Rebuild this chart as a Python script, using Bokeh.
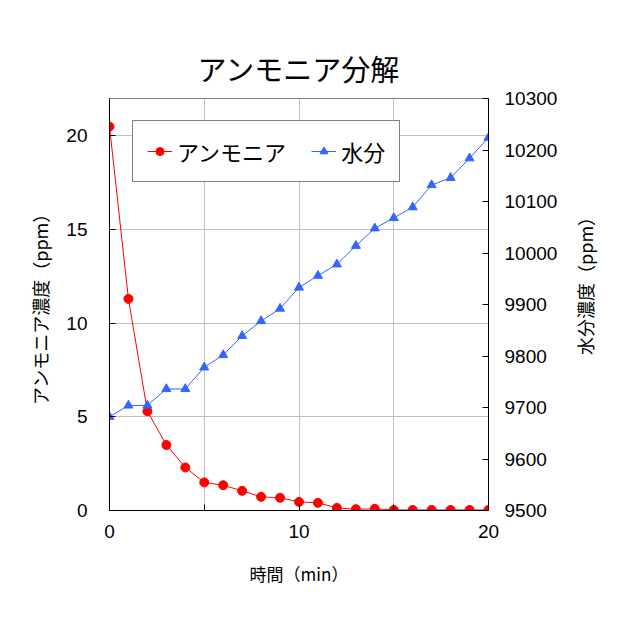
import math
from bokeh.plotting import figure
from bokeh.layouts import row
from bokeh.models import Range1d, LinearAxis, FixedTicker, Legend, LegendItem
from bokeh.core.properties import value
from bokeh.embed import file_html
from bokeh.resources import INLINE

time_min = list(range(21))
ammonia = [20.5, 11.3, 5.3, 3.5, 2.3, 1.5, 1.35, 1.05, 0.73, 0.68, 0.46,
           0.41, 0.14, 0.07, 0.09, 0.03, 0.03, 0.03, 0.03, 0.03, 0.03]
water = [9682, 9704, 9704, 9736, 9736, 9778, 9802, 9839, 9868, 9892, 9933,
         9956, 9978, 10014, 10048, 10068, 10089, 10132, 10146, 10184, 10224]
x_ticks = [0, 5, 10, 15, 20]
left_ticks = [0, 5, 10, 15, 20]
right_ticks = [9500, 9600, 9700, 9800, 9900, 10000, 10100, 10200, 10300]
right_title = "水分濃度（ppm）"

JP = "Noto Sans CJK JP"
NUM = "Liberation Sans"

p = figure(width=570, height=640, output_backend="svg", toolbar_location=None,
           x_range=Range1d(0, 20), y_range=Range1d(0, 22),
           min_border_left=109, min_border_right=82, min_border_top=98, min_border_bottom=130)
p.background_fill_color = "white"
p.border_fill_color = "white"
p.outline_line_color = "#808080"

p.title.text = "アンモニア分解"
p.title.align = "center"
p.title.text_font = JP
p.title.text_font_size = "29px"
p.title.text_font_style = "normal"
p.title.text_color = "black"
p.title.standoff = 19

p.extra_y_ranges = {"w": Range1d(9500, 10300)}

def style_axis(ax):
    ax.axis_line_color = "black"
    ax.major_tick_line_color = "black"
    ax.major_tick_in = 6
    ax.major_tick_out = 0
    ax.minor_tick_line_color = None
    ax.major_label_text_font = NUM
    ax.major_label_text_font_size = "19px"
    ax.major_label_text_color = "black"
    ax.axis_label_text_font = JP
    ax.axis_label_text_font_size = "18px"
    ax.axis_label_text_font_style = "normal"
    ax.axis_label_text_color = "black"

xa = p.xaxis[0]
xa.ticker = FixedTicker(ticks=x_ticks)
xa.major_label_overrides = {5: "", 15: ""}
xa.axis_label = "時間（min）"
style_axis(xa)
xa.axis_label_text_font_size = "17px"
xa.major_label_standoff = 14
xa.axis_label_standoff = 20

ya = p.yaxis[0]
ya.ticker = FixedTicker(ticks=left_ticks)
ya.axis_label = "アンモニア濃度（ppm）"
style_axis(ya)
ya.major_label_standoff = 22
ya.axis_label_standoff = 10

ra = LinearAxis(y_range_name="w", ticker=FixedTicker(ticks=right_ticks))
style_axis(ra)
ra.major_label_standoff = 16
p.add_layout(ra, "right")

p.xgrid.ticker = FixedTicker(ticks=[5, 10, 15])
p.ygrid.ticker = FixedTicker(ticks=[5, 10, 15, 20])
p.xgrid.grid_line_color = "#c0c0c0"
p.ygrid.grid_line_color = "#c0c0c0"

red = "#ff0000"
blue = "#3366ff"
l1 = p.line(time_min, ammonia, line_color=red, line_width=1)
s1 = p.scatter(time_min, ammonia, marker="circle", size=9, fill_color=red, line_color=red)
l2 = p.line(time_min, water, line_color=blue, line_width=1, y_range_name="w")
s2 = p.scatter(time_min, water, marker="triangle", size=9, fill_color=blue, line_color=blue, y_range_name="w")

legend = Legend(items=[LegendItem(label="アンモニア", renderers=[l1, s1]),
                       LegendItem(label="水分", renderers=[l2, s2])],
                orientation="horizontal", location=(23, 328))
legend.label_text_font = JP
legend.label_text_font_size = "22px"
legend.label_text_color = "black"
legend.label_height = 22
legend.glyph_width = 25
legend.glyph_height = 20
legend.label_standoff = 5
legend.spacing = 25
legend.padding = 14
legend.margin = 0
legend.border_line_color = "black"
legend.border_line_width = 1
legend.background_fill_color = "white"
legend.background_fill_alpha = 1
p.add_layout(legend)

# narrow strip to the right holding the right-axis title, read bottom-to-top
p2 = figure(width=70, height=640, output_backend="svg", toolbar_location=None, title=None,
            x_range=Range1d(0, 1), y_range=Range1d(0, 1),
            x_axis_type=None, y_axis_type=None,
            min_border_left=0, min_border_right=0, min_border_top=0, min_border_bottom=0)
p2.outline_line_color = None
p2.background_fill_color = "white"
p2.border_fill_color = "white"
p2.grid.visible = False
p2.text(x=[0.21], y=[0.556], text=[right_title], angle=math.pi / 2,
        text_align="center", text_baseline="middle",
        text_font=value(JP), text_font_size="18px", text_color="black")

layout = row(p, p2)
open("out.html", "w").write(file_html(layout, INLINE))
